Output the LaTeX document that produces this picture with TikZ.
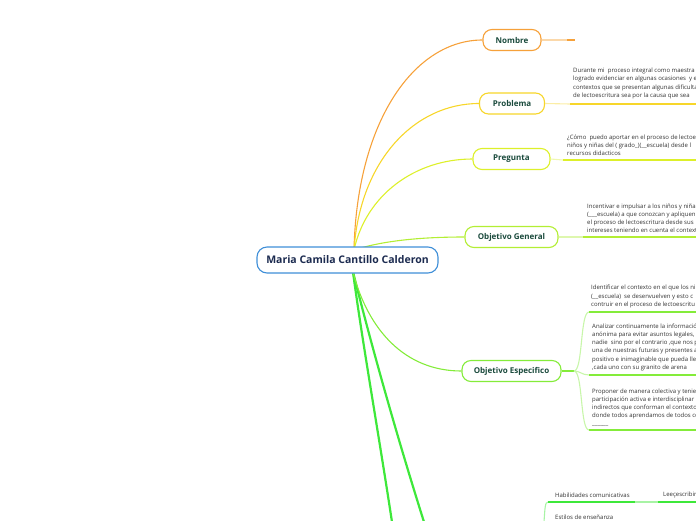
\documentclass[tikz,border=0pt]{standalone}
\usepackage{fontspec}
\setmainfont{Open Sans}
\definecolor{cOrange}{HTML}{F6A13A}
\definecolor{cOrangeL}{HTML}{FBD8AA}
\definecolor{cYellow}{HTML}{F7D62A}
\definecolor{cYellowL}{HTML}{FBEDA5}
\definecolor{cYG}{HTML}{DDF02A}
\definecolor{cYGL}{HTML}{F0F8B0}
\definecolor{cLime}{HTML}{B3EE34}
\definecolor{cLimeL}{HTML}{DEF7AE}
\definecolor{cGreen}{HTML}{84EC3A}
\definecolor{cGreenL}{HTML}{C8F6AA}
\definecolor{cBright}{HTML}{3EE83A}
\definecolor{cBrightL}{HTML}{A8F3A5}
\definecolor{cBlue}{HTML}{3F8FD8}
\definecolor{navy}{HTML}{1C2B50}
\definecolor{nodetext}{HTML}{1A4A3C}
\definecolor{bodytext}{HTML}{333333}
\begin{document}
\begin{tikzpicture}[x=1pt,y=-1pt,
  central/.style={draw=cBlue, line width=1.1pt, rounded corners=10pt, fill=white,
    minimum width=181pt, minimum height=26pt, inner sep=0pt,
    font=\fontsize{10.5}{12}\selectfont\bfseries, text=navy},
  topic/.style={draw, line width=1.1pt, rounded corners=9pt, fill=white,
    minimum height=21pt, inner sep=0pt,
    font=\fontsize{8}{10}\selectfont\bfseries, text=nodetext},
  body/.style={font=\fontsize{6}{8.2}\selectfont, align=left, anchor=south west,
    inner sep=0pt, text=bodytext},
  conn/.style={line width=1.1pt},
  pale/.style={line width=1.1pt},
  uline/.style={line width=1.7pt},
  thick/.style={line width=2.2pt}
 ]
\useasboundingbox (0,0) rectangle (696,520);
\clip (0,0) rectangle (696,520);

% hub coordinates
\coordinate (hubT) at (354,250);
\coordinate (hubB) at (353,272);
\coordinate (low1) at (392,522);
\coordinate (low2) at (424,522);

% lower main branches (behind central node)
\draw[thick, cBright] (hubB) .. controls (362,340) and (378,430) .. (low1);
\draw[thick, cBright] (hubB) .. controls (370,340) and (395,430) .. (low2);

% topic nodes
\node[topic, draw=cOrange, minimum width=58pt] (nombre) at (512,40) {Nombre};
\node[topic, draw=cYellow, minimum width=65pt] (problema) at (512,103.5) {Problema};
\node[topic, draw=cYG, minimum width=77pt] (pregunta) at (511.5,159) {Pregunta};
\node[topic, draw=cLime, minimum width=93pt] (ogeneral) at (511.5,237) {Objetivo General};
\node[topic, draw=cGreen, minimum width=99pt] (oesp) at (511.5,371) {Objetivo Especifico};

% connectors from central
\draw[conn, cOrange] (hubT) .. controls (357,120) and (415,40) .. (nombre.west);
\draw[conn, cYellow] (hubT) .. controls (360,160) and (415,103.5) .. (problema.west);
\draw[conn, cYG] (hubT) .. controls (366,195) and (415,159) .. (pregunta.west);
\draw[conn, cLime] (hubT) .. controls (385,240) and (425,237) .. (ogeneral.west);
\draw[conn, cGreen] (hubB) .. controls (368,330) and (405,371) .. (oesp.west);

% central node
\node[central] (c) at (347.5,260) {Maria Camila Cantillo Calderon};

% Nombre branch
\coordinate (nA) at (567,40);
\coordinate (nB) at (575,40);
\draw[pale, cOrangeL] (nombre.east) -- (nA);
\draw[uline, cOrange] (nA) -- (nB);

% Problema branch
\coordinate (pA) at (570,104);
\coordinate (pB) at (700,104);
\draw[pale, cYellowL] (problema.east) -- (pA);
\draw[uline, cYellow] (pA) -- (pB);
\node[body] (ptxt) at (573,99) {Durante mi\ \ proceso integral como maestra\\logrado evidenciar en algunas ocasiones\ \ y e\\contextos que se presentan algunas dificulta\\de lectoescritura sea por la causa que sea};

% Pregunta branch
\coordinate (qA) at (563,160);
\coordinate (qB) at (700,160);
\draw[pale, cYGL] (pregunta.east) -- (qA);
\draw[uline, cYG] (qA) -- (qB);
\node[body] (qtxt) at (567,156) {¿Cómo\ \ puedo aportar en el proceso de lectoe\\niños y niñas del ( grado\_)(\_\_escuela) desde l\\recursos didacticos};

% Objetivo General branch
\coordinate (gA) at (583,237);
\coordinate (gB) at (700,237);
\draw[pale, cLimeL] (ogeneral.east) -- (gA);
\draw[uline, cLime] (gA) -- (gB);
\node[body] (gtxt) at (587,233) {Incentivar e impulsar a los niños y niñas\\(\_\_\_escuela) a que conozcan y apliquen\\el proceso de lectoescritura desde sus\\intereses teniendo en cuenta el context};

% Objetivo Especifico branch
\coordinate (eJ) at (574,371);
\coordinate (e1A) at (589,312);
\coordinate (e1B) at (700,312);
\coordinate (e2A) at (589,375);
\coordinate (e2B) at (700,375);
\coordinate (e3A) at (589,430);
\coordinate (e3B) at (700,430);
\draw[line width=1.5pt, cGreen] (oesp.east) -- (eJ);
\draw[pale, cGreenL] (eJ) .. controls (583,371) and (580,312) .. (e1A);
\draw[pale, cGreenL] (eJ) .. controls (580,371) and (582,375) .. (e2A);
\draw[pale, cGreenL] (eJ) .. controls (583,371) and (580,430) .. (e3A);
\draw[uline, cGreen] (e1A) -- (e1B);
\draw[uline, cGreen] (e2A) -- (e2B);
\draw[uline, cGreen] (e3A) -- (e3B);
\node[body] (e1txt) at (591,308) {Identificar el contexto en el que los ni\\(\_\_escuela)\ \ se desenvuelven y esto c\\contruir en el proceso de lectoescritu};
\node[body] (e2txt) at (592,371) {Analizar continuamente la informació\\anónima para evitar asuntos legales,\\nadie\ \ sino por el contrario ,que nos p\\una de nuestras futuras y presentes a\\positivo e inimaginable que pueda lle\\,cada uno con su granito de arena};
\node[body] (e3txt) at (592,427) {Proponer de manera colectiva y tenie\\participación activa e interdisciplinar\\indirectos que conforman el contexto\\donde todos aprendamos de todos co\\\_\_\_\_\_\_};

% bottom branch
\coordinate (hA) at (548,502);
\coordinate (hB) at (635,502);
\coordinate (hC) at (658,502);
\coordinate (hD) at (700,502);
\coordinate (hS) at (544,522);
\draw[pale, cBrightL] (hS) .. controls (545,508) and (545,502) .. (hA);
\draw[uline, cBright] (hA) -- (hB);
\draw[pale, cBrightL] (hB) -- (hC);
\draw[uline, cBright] (hC) -- (hD);
\node[body] (htxt) at (555,498) {Habilidades comunicativas};
\node[body] (ltxt) at (663,498) {Leeçescribir};
\node[body] (stxt) at (555,519.5) {Estilos de enseñanza};
\end{tikzpicture}
\end{document}
